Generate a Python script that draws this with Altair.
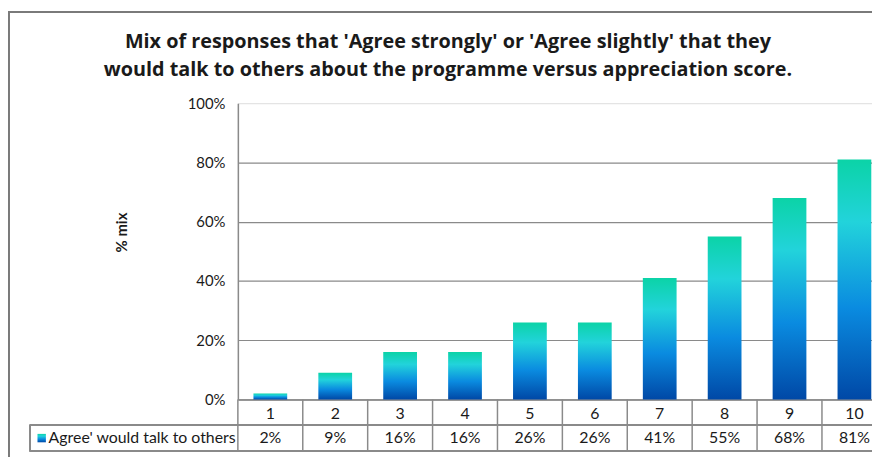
import altair as alt
import pandas as pd

categories = ["1", "2", "3", "4", "5", "6", "7", "8", "9", "10"]
values = [0.02, 0.09, 0.16, 0.16, 0.26, 0.26, 0.41, 0.55, 0.68, 0.81]
value_labels = ["2%", "9%", "16%", "16%", "26%", "26%", "41%", "55%", "68%", "81%"]
series_name = "Agree' would talk to others"
title_line1 = "Mix of  responses that 'Agree strongly' or 'Agree slightly' that they"
title_line2 = "would talk to others about the programme versus appreciation score."
y_title = "% mix"
y_ticks = [0, 0.2, 0.4, 0.6, 0.8, 1.0]

df = pd.DataFrame({"score": categories, "mix": values, "label": value_labels})

W, H = 640, 299          # visible plot box (the last column runs past the window edge)
FULL_W = 655             # full category range, clipped at the right like the original
FONT = "Lato"
TITLE_FONT = "Open Sans"
GREY = "#8a8a8a"
TEXT = "#1a1a1a"

grad = alt.LinearGradient(
    gradient="linear",
    stops=[
        alt.GradientStop(color="#0048A6", offset=0),
        alt.GradientStop(color="#0A8BE0", offset=0.38),
        alt.GradientStop(color="#22D3DB", offset=0.74),
        alt.GradientStop(color="#0BD3A7", offset=1),
    ],
    x1=0, x2=0, y1=1, y2=0,
)

x_scale = alt.Scale(paddingInner=0.48, paddingOuter=0.24, range=[0, FULL_W])
cell_scale = alt.Scale(paddingInner=0, paddingOuter=0, range=[0, FULL_W])

x_enc = alt.X(
    "score:N",
    sort=categories,
    scale=x_scale,
    axis=alt.Axis(
        title=None, labelAngle=0, ticks=False,
        domainColor=GREY, domainWidth=1.5,
        labelPadding=6, labelFontSize=16, labelColor=TEXT, labelFont=FONT,
        grid=False,
    ),
)

y_enc = alt.Y(
    "mix:Q",
    scale=alt.Scale(domain=[0, 1]),
    axis=alt.Axis(
        format=".0%", values=y_ticks, title=y_title, titleFont=FONT,
        titleFontWeight="bold", titleFontSize=15, titleColor=TEXT,
        titleX=-117, titleY=130, titleAngle=270, titleAlign="center",
        titleBaseline="middle",
        ticks=False, labelPadding=13, labelFontSize=15, labelColor=TEXT,
        labelFont=FONT, domainColor=GREY, domainWidth=1.5,
        gridColor=GREY, gridWidth=1.2,
        gridOpacity={"condition": {"test": "datum.value >= 1", "value": 0}, "value": 1},
    ),
)

base = alt.Chart(df)

bars = base.mark_bar(color=grad).encode(x=x_enc, y=y_enc)

value_row = base.mark_text(font=FONT, fontSize=16, color=TEXT, baseline="middle").encode(
    x=alt.X("score:N", sort=categories, scale=x_scale, axis=None),
    y=alt.value(H + 39),
    text="label:N",
)

cell_lines = base.mark_rule(color=GREY, strokeWidth=1.5).encode(
    x=alt.X("score:N", sort=categories, scale=cell_scale, bandPosition=0, axis=None),
    y=alt.value(H),
    y2=alt.value(H + 52),
)

line_mid = base.mark_rule(color=GREY, strokeWidth=1.5).encode(
    x=alt.value(-210), x2=alt.value(FULL_W + 5), y=alt.value(H + 26)
)
line_bot = base.mark_rule(color=GREY, strokeWidth=1.5).encode(
    x=alt.value(-210), x2=alt.value(FULL_W + 5), y=alt.value(H + 52)
)
line_left = base.mark_rule(color=GREY, strokeWidth=1.5).encode(
    x=alt.value(-210), y=alt.value(H + 26), y2=alt.value(H + 52)
)

legend_df = pd.DataFrame({"name": [series_name]})
legend_sq = alt.Chart(legend_df).mark_square(fill=grad, size=72, opacity=1).encode(
    x=alt.value(-198), y=alt.value(H + 39)
)
legend_txt = alt.Chart(legend_df).mark_text(
    font=FONT, fontSize=16, color=TEXT, align="left", baseline="middle"
).encode(x=alt.value(-191), y=alt.value(H + 39), text="name:N")

title_df = pd.DataFrame({"t1": [title_line1], "t2": [title_line2]})
t1 = alt.Chart(title_df).mark_text(
    font=TITLE_FONT, fontSize=20, fontWeight="bold", color=TEXT, align="center", baseline="alphabetic"
).encode(x=alt.value(212), y=alt.value(-56), text="t1:N")
t2 = alt.Chart(title_df).mark_text(
    font=TITLE_FONT, fontSize=20, fontWeight="bold", color=TEXT, align="center", baseline="alphabetic"
).encode(x=alt.value(212), y=alt.value(-27), text="t2:N")

frame = alt.Chart(title_df).mark_rect(filled=False, stroke="#7a7a7a", strokeWidth=2).encode(
    x=alt.value(-231), x2=alt.value(FULL_W + 10), y=alt.value(-92), y2=alt.value(H + 62)
)

chart = alt.layer(
    frame, bars, value_row, cell_lines, line_mid, line_bot, line_left,
    legend_sq, legend_txt, t1, t2
).resolve_scale(x="independent").properties(
    width=W, height=H,
    autosize=alt.AutoSizeParams(type="none"),
    padding={"left": 232, "top": 94, "right": 0, "bottom": 56},
).configure_view(stroke=None).configure(background="white")

chart.save("out.html", embed_options={"renderer": "svg", "actions": False})
